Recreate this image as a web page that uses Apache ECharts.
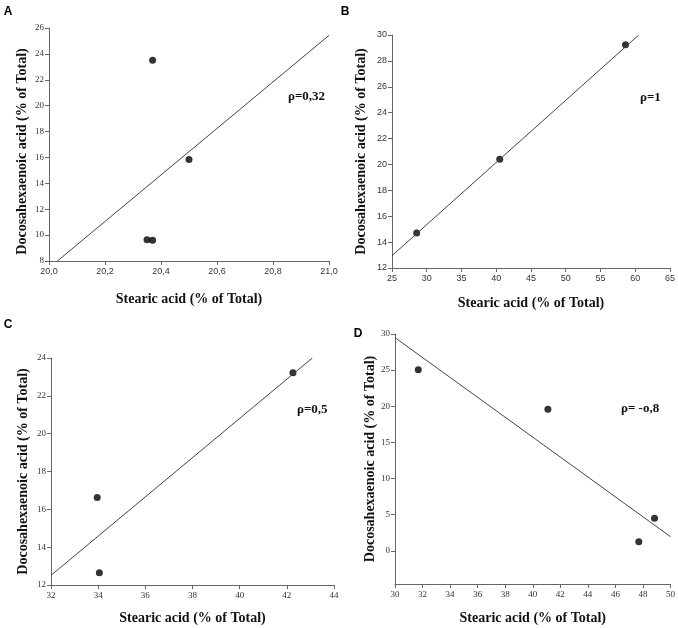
<!DOCTYPE html>
<html><head><meta charset="utf-8">
<script src="https://cdn.jsdelivr.net/npm/echarts@6/dist/echarts.min.js"></script>
<style>html,body{margin:0;padding:0;background:#fff}#c{width:678px;height:628px}</style>
</head><body><div id="c"></div>
<script>
// Panel A
const ptsA = [[20.37, 23.5], [20.5, 15.85], [20.35, 9.65], [20.37, 9.6]];
const lineA = [[20.03, 8], [21.0, 25.43]];
// Panel B
const ptsB = [[28.55, 14.7], [40.5, 20.4], [58.6, 29.24]];
const lineB = [[25, 12.95], [60.5, 30]];
// Panel C
const ptsC = [[33.96, 16.63], [34.05, 12.65], [42.26, 23.22]];
const lineC = [[32, 12.51], [43.08, 24]];
// Panel D
const ptsD = [[31.69, 25.05], [41.1, 19.6], [47.7, 1.25], [48.84, 4.5]];
const lineD = [[30, 29.5], [50, 1.95]];

const rhoTexts = ['ρ=0,32', 'ρ=1', 'ρ=0,5', 'ρ= -o,8'];
const panelLetters = ['A', 'B', 'C', 'D'];
const xName = 'Stearic acid (% of Total)';
const yName = 'Docosahexaenoic acid (% of Total)';

const serif = '"Liberation Serif", "DejaVu Serif", serif';
const sans = '"Liberation Sans", Arial, sans-serif';

const grids = [
  {left: 49, top: 28, width: 280, height: 233},
  {left: 392, top: 35, width: 278, height: 233},
  {left: 51, top: 358, width: 283, height: 227},
  {left: 395, top: 334, width: 276, height: 250}
];
const xCfg = [
  {min: 20, max: 21, interval: 0.2, font: sans, gap: 31, dec: 1},
  {min: 25, max: 65, interval: 5, font: sans, gap: 28, dec: 0},
  {min: 32, max: 44, interval: 2, font: serif, gap: 26, dec: 0},
  {min: 30, max: 50, interval: 2, font: serif, gap: 27, dec: 0}
];
const yCfg = [
  {min: 8, max: 26, interval: 2, font: serif, gap: 20, pad: [0, 14, 0, 0]},
  {min: 12, max: 30, interval: 2, font: sans, gap: 24, pad: 0},
  {min: 12, max: 24, interval: 2, font: serif, gap: 21, pad: 0},
  {min: -4.6, max: 30, custom: [0, 5, 10, 15, 20, 25, 30], font: serif, gap: 18, pad: 0}
];

const axisLineStyle = {color: '#666', width: 1};
const nameStyle = {fontFamily: serif, fontWeight: 'bold', fontSize: 14, color: '#111'};

const xAxis = xCfg.map((c, i) => ({
  type: 'value', gridIndex: i, min: c.min, max: c.max, interval: c.interval,
  splitLine: {show: false},
  axisLine: {show: true, lineStyle: axisLineStyle, onZero: false},
  axisTick: {show: true, length: 4, lineStyle: axisLineStyle},
  axisLabel: {fontFamily: c.font, fontSize: 9, color: '#333', margin: 6,
    formatter: v => v.toFixed(c.dec).replace('.', ',')},
  name: xName, nameLocation: 'middle', nameGap: c.gap, nameTextStyle: nameStyle
}));
const yAxis = yCfg.map((c, i) => {
  const a = {
    type: 'value', gridIndex: i, min: c.min, max: c.max,
    splitLine: {show: false},
    axisLine: {show: true, lineStyle: axisLineStyle, onZero: false},
    axisTick: {show: true, length: 4, lineStyle: axisLineStyle},
    axisLabel: {fontFamily: c.font, fontSize: 9, color: '#333', margin: 5},
    name: yName, nameLocation: 'middle', nameGap: c.gap,
    nameTextStyle: Object.assign({}, nameStyle, {padding: c.pad})
  };
  if (c.custom) {
    a.axisLabel.customValues = c.custom;
    a.axisTick.customValues = c.custom;
  } else {
    a.interval = c.interval;
  }
  return a;
});

const allPts = [ptsA, ptsB, ptsC, ptsD];
const allLines = [lineA, lineB, lineC, lineD];
const series = [];
allPts.forEach((p, i) => {
  series.push({type: 'line', xAxisIndex: i, yAxisIndex: i, data: allLines[i],
    symbol: 'none', lineStyle: {color: '#444', width: 1}, silent: true});
  series.push({type: 'scatter', xAxisIndex: i, yAxisIndex: i, data: p,
    symbolSize: 7, itemStyle: {color: '#000'}});
});

const rhoPos = [[288, 97], [640, 98], [297, 410], [621, 409]];
const letterPos = [[8, 12], [345, 12], [8, 325], [358, 334]];
const graphic = [];
rhoTexts.forEach((t, i) => {
  graphic.push({type: 'text', x: rhoPos[i][0], y: rhoPos[i][1],
    style: {text: t, fontFamily: serif, fontWeight: 'bold', fontSize: 13, fill: '#111',
      align: 'left', verticalAlign: 'middle'}});
  graphic.push({type: 'text', x: letterPos[i][0], y: letterPos[i][1],
    style: {text: panelLetters[i], fontFamily: sans, fontWeight: 'bold', fontSize: 12, fill: '#000',
      align: 'center', verticalAlign: 'middle'}});
});

const chart = echarts.init(document.getElementById('c'), null, {renderer: 'canvas'});
chart.setOption({
  animation: false,
  grid: grids,
  xAxis, yAxis, series, graphic
});
</script></body></html>
